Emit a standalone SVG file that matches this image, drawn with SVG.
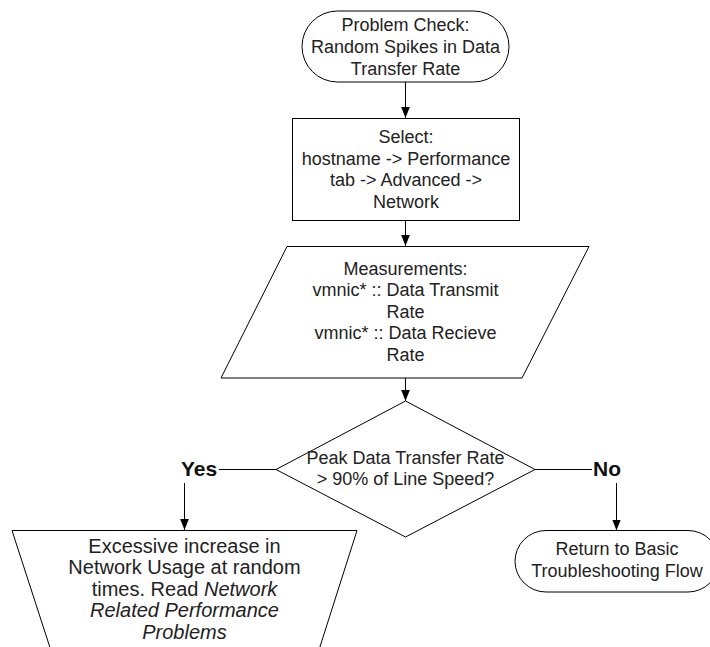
<svg xmlns="http://www.w3.org/2000/svg" width="710" height="647" viewBox="0 0 710 647">
  <defs>
    <marker id="arrow" markerUnits="userSpaceOnUse" markerWidth="11" markerHeight="14" refX="14" refY="5.5" orient="auto" viewBox="0 0 14 11">
      <path d="M0,0 L14,5.5 L0,11 Z" fill="#000"/>
    </marker>
    <style>
      .shape { fill: #fff; stroke: #000; stroke-width: 1; }
      .line { fill: none; stroke: #000; stroke-width: 1; }
      .txt { font-family: "Liberation Sans", Arial, sans-serif; font-size: 18px; fill: #222; text-anchor: middle; }
      .big { font-size: 20px; }
      .lbl { font-family: "Liberation Sans", Arial, sans-serif; font-size: 21px; font-weight: bold; fill: #111; text-anchor: middle; }
      .it { font-style: italic; }
    </style>
  </defs>

  <rect width="710" height="647" fill="#fff"/>

  <!-- connectors -->
  <g id="connectors">
    <line class="line" x1="405.5" y1="82" x2="405.5" y2="118" marker-end="url(#arrow)"/>
    <line class="line" x1="405.5" y1="220.5" x2="405.5" y2="246" marker-end="url(#arrow)"/>
    <line class="line" x1="405.5" y1="378" x2="405.5" y2="401" marker-end="url(#arrow)"/>
    <line class="line" x1="219" y1="469.5" x2="276" y2="469.5"/>
    <line class="line" x1="535" y1="469.5" x2="592" y2="469.5"/>
    <line class="line" x1="184.5" y1="483" x2="184.5" y2="530" marker-end="url(#arrow)"/>
    <line class="line" x1="616.5" y1="483" x2="616.5" y2="530.5" marker-end="url(#arrow)"/>
    <text class="lbl" x="199" y="476">Yes</text>
    <text class="lbl" x="607" y="476">No</text>
  </g>

  <!-- start terminator -->
  <g id="start">
    <rect class="shape" x="302" y="11" width="207" height="71" rx="35.5" ry="35.5"/>
    <text class="txt" x="405.5" y="31">Problem Check:</text>
    <text class="txt" x="405.5" y="53">Random Spikes in Data</text>
    <text class="txt" x="405.5" y="75">Transfer Rate</text>
  </g>

  <!-- select process -->
  <g id="select">
    <rect class="shape" x="292.5" y="118.5" width="227" height="102"/>
    <text class="txt" x="406" y="143">Select:</text>
    <text class="txt" x="406" y="164.5">hostname -&gt; Performance</text>
    <text class="txt" x="406" y="186">tab -&gt; Advanced -&gt;</text>
    <text class="txt" x="406" y="207.5">Network</text>
  </g>

  <!-- measurements input -->
  <g id="measurements">
    <polygon class="shape" points="287,246.5 589,246.5 522,378 221,378"/>
    <text class="txt" x="405.5" y="274.5">Measurements:</text>
    <text class="txt" x="405.5" y="296">vmnic* :: Data Transmit</text>
    <text class="txt" x="405.5" y="317.5">Rate</text>
    <text class="txt" x="405.5" y="339">vmnic* :: Data Recieve</text>
    <text class="txt" x="405.5" y="360.5">Rate</text>
  </g>

  <!-- decision -->
  <g id="decision">
    <polygon class="shape" points="405.5,401 535,469.5 405.5,537 276,469.5"/>
    <text class="txt" x="405.5" y="463.5">Peak Data Transfer Rate</text>
    <text class="txt" x="405.5" y="485">&gt; 90% of Line Speed?</text>
  </g>

  <!-- yes outcome (manual operation, runs past the bottom edge) -->
  <g id="excessive">
    <polygon class="shape" points="12,530.5 357,530.5 303,700 67,700"/>
    <text class="txt big" x="184.5" y="552.5">Excessive increase in</text>
    <text class="txt big" x="184.5" y="574">Network Usage at random</text>
    <text class="txt big" x="184.5" y="595.5">times. Read <tspan class="it">Network</tspan></text>
    <text class="txt big it" x="184.5" y="617">Related Performance</text>
    <text class="txt big it" x="184.5" y="638.5">Problems</text>
  </g>

  <!-- no outcome (terminator runs past the right edge) -->
  <g id="return">
    <rect class="shape" x="515" y="530.5" width="204" height="61.5" rx="31" ry="31"/>
    <text class="txt" x="617" y="555">Return to Basic</text>
    <text class="txt" x="617" y="576.5">Troubleshooting Flow</text>
  </g>
</svg>
